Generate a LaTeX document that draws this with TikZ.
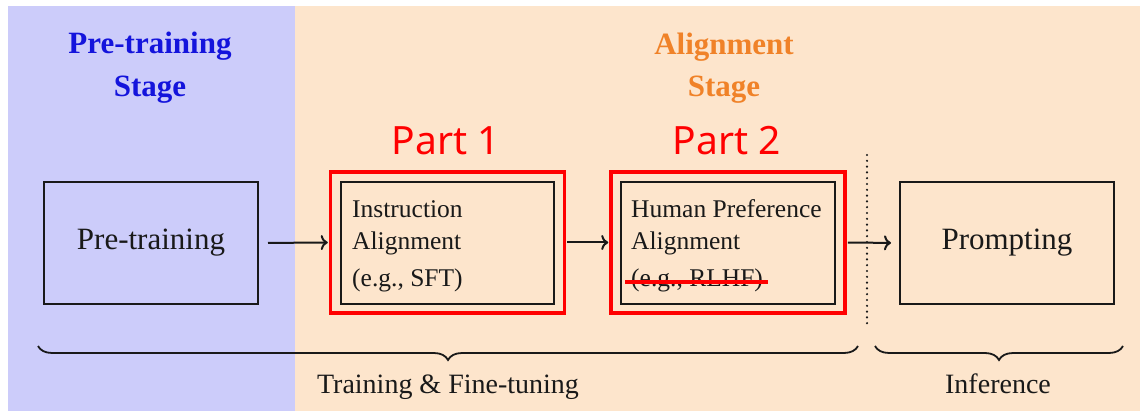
\documentclass[tikz,border=0pt]{standalone}
\usepackage{fontspec}
\setmainfont{Liberation Serif}
\newfontfamily\partfont{Noto Sans}
\usetikzlibrary{arrows.meta,decorations.pathreplacing}
\definecolor{bgblue}{RGB}{204,204,250}
\definecolor{bgorange}{RGB}{253,229,204}
\definecolor{stageblue}{RGB}{20,20,220}
\definecolor{stageorange}{RGB}{240,130,40}
\definecolor{partred}{RGB}{255,0,0}
\definecolor{ink}{RGB}{25,25,25}
\begin{document}
\begin{tikzpicture}[x=1pt,y=-1pt,
  box/.style={draw=ink, line width=2pt, inner sep=0pt, rectangle, font=\fontsize{31pt}{37pt}\selectfont},
  redbox/.style={draw=partred, line width=3.5pt, inner sep=0pt, rectangle},
  stagetxt/.style={inner sep=0pt, anchor=base, font=\bfseries\fontsize{31pt}{36pt}\selectfont},
  boxtxt/.style={inner sep=0pt, anchor=base west, text=ink, font=\fontsize{25.5pt}{30pt}\selectfont},
  parttxt/.style={inner sep=0pt, anchor=base, text=partred, font=\partfont\fontsize{39pt}{46pt}\selectfont},
  bracetxt/.style={inner sep=0pt, anchor=base, text=ink, font=\fontsize{28pt}{33pt}\selectfont},
  flow/.style={draw=ink, line width=2pt, -{To[length=7pt,width=15pt]}},
  bracestyle/.style={draw=ink, line width=1.8pt, decorate, decoration={brace, mirror, amplitude=14pt}}
]
\useasboundingbox (0,0) rectangle (1140,411);
\fill[white] (0,0) rectangle (1140,411);
\fill[bgblue] (8,6) rectangle (295,411);
\fill[bgorange] (295,6) rectangle (1140,411);

% stage titles
\node[stagetxt, text=stageblue] (s1a) at (150,54) {Pre-training};
\node[stagetxt, text=stageblue] (s1b) at (150,97) {Stage};
\node[stagetxt, text=stageorange] (s2a) at (724,55) {Alignment};
\node[stagetxt, text=stageorange] (s2b) at (724,97) {Stage};

% part labels
\node[parttxt] (p1) at (446,155) {Part 1};
\node[parttxt] (p2) at (727,155) {Part 2};

% boxes
\node[box, text=ink, minimum width=214pt, minimum height=122pt] (pre) at (151,243) {Pre-training};
\node[box, text=ink, minimum width=214pt, minimum height=122pt] (prompt) at (1007,243) {Prompting};
\node[box, minimum width=213pt, minimum height=122pt] (ia) at (447.5,243) {};
\node[box, minimum width=214pt, minimum height=122pt] (hpa) at (727.5,243) {};
\node[redbox, minimum width=234pt, minimum height=141pt] (r1) at (447.5,242.5) {};
\node[redbox, minimum width=234pt, minimum height=141pt] (r2) at (728,242.5) {};

% box texts
\node[boxtxt] (ia1) at (352,218) {Instruction};
\node[boxtxt] (ia2) at (352,250) {Alignment};
\node[boxtxt] (ia3) at (352,287) {(e.g., SFT)};
\node[boxtxt] (hp1) at (631,218) {Human Preference};
\node[boxtxt] (hp2) at (631,250) {Alignment};
\node[boxtxt] (hp3) at (631,287) {(e.g., RLHF)};

% strike
\coordinate (k1) at (625,282);
\coordinate (k2) at (768,282);
\draw[partred, line width=3.5pt] (k1) -- (k2);

% arrows
\draw[flow, shorten <=9pt, shorten >=1pt] (pre.east) -- (r1.west);
\draw[flow, shorten <=1pt, shorten >=1pt] (r1.east) -- (r2.west);
\draw[flow, shorten <=1pt, shorten >=8pt] (r2.east) -- (prompt.west);

% dotted separator
\coordinate (d1) at (867,155);
\coordinate (d2) at (867,328);
\draw[ink, line width=2.4pt, line cap=round, dash pattern=on 0pt off 5.8pt] (d1) -- (d2);

% braces
\coordinate (b1) at (38,346);
\coordinate (b2) at (858,346);
\coordinate (b3) at (875,346);
\coordinate (b4) at (1123,346);
\draw[bracestyle] (b1) -- (b2);
\draw[bracestyle] (b3) -- (b4);
\node[bracetxt] (tft) at (448,393) {Training \& Fine-tuning};
\node[bracetxt] (inf) at (998,393) {Inference};
\end{tikzpicture}
\end{document}
